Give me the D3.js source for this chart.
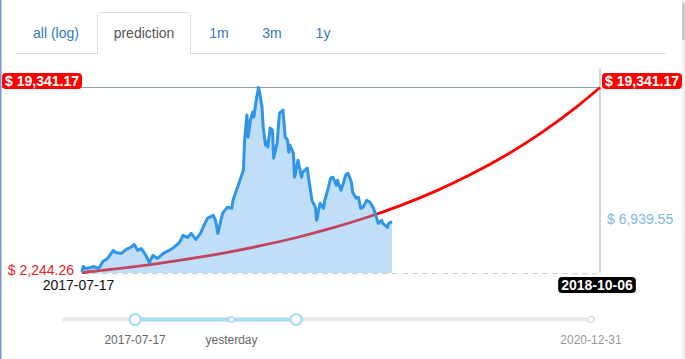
<!DOCTYPE html>
<html><head><meta charset="utf-8">
<script src="https://cdn.jsdelivr.net/npm/d3@7"></script>
<style>
html,body{margin:0;padding:0;background:#fff;overflow:hidden}
svg{display:block;font-family:"Liberation Sans",Arial,Helvetica,sans-serif}
</style></head>
<body>
<svg id="c" width="685" height="359"></svg>
<script>
// ---------- data ----------
const tabs = ["all (log)", "prediction", "1m", "3m", "1y"];
const activeTab = "prediction";

const priceDates = ["2017-07-17","2017-07-18","2017-07-19","2017-07-20","2017-07-25","2017-07-27","2017-07-31","2017-08-02","2017-08-04","2017-08-08","2017-08-13","2017-08-15","2017-08-20","2017-08-24","2017-08-28","2017-08-31","2017-09-03","2017-09-06","2017-09-10","2017-09-13","2017-09-16","2017-09-20","2017-09-25","2017-09-30","2017-10-04","2017-10-09","2017-10-12","2017-10-16","2017-10-19","2017-10-23","2017-10-27","2017-10-30","2017-11-02","2017-11-07","2017-11-09","2017-11-11","2017-11-15","2017-11-17","2017-11-19","2017-11-23","2017-11-24","2017-11-27","2017-11-30","2017-12-03","2017-12-04","2017-12-06","2017-12-07","2017-12-09","2017-12-11","2017-12-12","2017-12-14","2017-12-16","2017-12-17","2017-12-19","2017-12-20","2017-12-22","2017-12-23","2017-12-24","2017-12-26","2017-12-28","2017-12-29","2018-01-01","2018-01-03","2018-01-06","2018-01-08","2018-01-10","2018-01-11","2018-01-12","2018-01-15","2018-01-16","2018-01-19","2018-01-22","2018-01-23","2018-01-27","2018-01-28","2018-01-31","2018-02-03","2018-02-04","2018-02-07","2018-02-10","2018-02-11","2018-02-14","2018-02-16","2018-02-18","2018-02-21","2018-02-22","2018-02-25","2018-02-27","2018-03-01","2018-03-03","2018-03-06","2018-03-07","2018-03-10","2018-03-12","2018-03-14","2018-03-16","2018-03-19","2018-03-22","2018-03-25","2018-03-27","2018-03-29","2018-04-01","2018-04-02","2018-04-06","2018-04-07","2018-04-10"];
const prices = [2244,2800,2707,2615,2707,2800,2615,2893,3263,3541,4283,4097,4005,4375,4561,4839,4283,4468,3819,3171,3819,3541,4005,4283,4561,5024,5673,5488,5858,5302,5858,6600,7248,7526,7063,5858,7712,7989,8268,8175,8916,9843,10770,11696,14476,16793,14754,16330,17071,16608,18183,19341,18832,17534,15681,14012,14290,13828,15588,15403,12808,14198,16979,17257,14754,14476,13364,14013,13271,11048,12623,11048,11511,11882,11048,8916,8268,7063,8638,8175,8916,10028,10955,11048,10306,10770,9843,10492,11233,11418,10584,9658,9102,9194,8175,8268,8916,8731,8175,7526,6785,7063,6785,6414,6785,6939.55];

const predDates = ["2017-07-17","2017-08-17","2017-09-17","2017-10-17","2017-11-17","2017-12-17","2018-01-17","2018-02-17","2018-03-17","2018-04-17","2018-05-17","2018-06-17","2018-07-17","2018-08-17","2018-09-17","2018-10-06"];
const predValues = [2244.26,2607,3028,3500,4065,4698,5457,6339,7256,8428,9742,11316,13080,15193,17646,19341.17];

const startDate = "2017-07-17", targetDate = "2018-10-06";
const minValue = 2244.26, maxValue = 19341.17, lastValue = 6939.55;

const sliderDomain = ["2017-01-01", "2020-12-31"];
const sliderMarks = [["2017-07-17","2017-07-17",true],["2018-04-10","yesterday",false],["2018-10-06","",true]];
const sliderEnd = ["2020-12-31","2020-12-31"];

// ---------- drawing ----------
const parse = d3.utcParse("%Y-%m-%d");
const svg = d3.select("#c");
const fmt = v => "$ " + d3.format(",.2f")(v);

// frame bits
svg.append("rect").attr("x",0).attr("y",0).attr("width",1.5).attr("height",359).attr("fill","#7f93cf");
svg.append("rect").attr("x",682).attr("y",0).attr("width",3).attr("height",359).attr("fill","#f1f1f1");
svg.append("rect").attr("x",682).attr("y",3).attr("width",3).attr("height",37).attr("fill","#c9c9c9");

// tabs
const tabX = [56, 144, 219, 272, 323];
svg.append("line").attr("x1",16).attr("x2",666).attr("y1",53.5).attr("y2",53.5).attr("stroke","#ddd");
svg.append("path").attr("d","M97.5,53.5 V17 Q97.5,12.5 102,12.5 H186 Q190.5,12.5 190.5,17 V53.5")
  .attr("fill","#fff").attr("stroke","#ddd");
svg.append("line").attr("x1",98).attr("x2",190).attr("y1",53.5).attr("y2",53.5).attr("stroke","#fff").attr("stroke-width",1.5);
svg.selectAll("text.tab").data(tabs).join("text").attr("class","tab")
  .attr("x",(d,i)=>tabX[i]).attr("y",38).attr("text-anchor","middle")
  .attr("font-size",14).attr("fill",d=>d===activeTab?"#555":"#337ab7").text(d=>d);

// scales
const x = d3.scaleUtc().domain([parse(startDate), parse(targetDate)]).range([82, 600]);
const y = d3.scaleLinear().domain([minValue, maxValue]).range([272.5, 87.5]);

const priceData = priceDates.map((d,i)=>({date:parse(d), v:prices[i]}));
const predData = predDates.map((d,i)=>({date:parse(d), v:predValues[i]}));

// guides
svg.append("line").attr("x1",x(parse(startDate))).attr("x2",x(parse(targetDate)))
  .attr("y1",273.5).attr("y2",273.5).attr("stroke","#cfcfcf").attr("stroke-dasharray","6,4");
svg.append("line").attr("x1",0).attr("x2",x(parse(targetDate))).attr("y1",y(maxValue)).attr("y2",y(maxValue))
  .attr("stroke","#8c9dba").attr("stroke-width",1.2);
svg.append("line").attr("x1",x(parse(targetDate))).attr("x2",x(parse(targetDate))).attr("y1",68).attr("y2",273)
  .attr("stroke","#c8c8c8").attr("stroke-width",1.5);

// prediction curve
svg.append("path").datum(predData).attr("fill","none").attr("stroke","#f00").attr("stroke-width",2.8)
  .attr("d", d3.line().x(d=>x(d.date)).y(d=>y(d.v)).curve(d3.curveMonotoneX));

// price area + line
svg.append("path").datum(priceData).attr("fill","rgba(100,172,238,0.4)")
  .attr("d", d3.area().x(d=>x(d.date)).y0(273).y1(d=>y(d.v)));
svg.append("path").datum(priceData).attr("fill","none").attr("stroke","#2f95e8").attr("stroke-width",3)
  .attr("stroke-linejoin","round")
  .attr("d", d3.line().x(d=>x(d.date)).y(d=>y(d.v)));

// labels
function badge(cx0, yBottom, text, fill, anchorLeft){
  const g = svg.append("g");
  const t = g.append("text").attr("font-size",14).attr("font-weight","bold").attr("fill","#fff").text(text);
  const w = t.node().getComputedTextLength() + 6;
  const x0 = anchorLeft ? cx0 : cx0 - w/2;
  g.insert("rect","text").attr("x",x0).attr("y",yBottom-16).attr("width",w).attr("height",16).attr("rx",4).attr("fill",fill);
  t.attr("x",x0+w/2).attr("y",yBottom-3).attr("text-anchor","middle");
}
badge(2, 89, fmt(maxValue), "#f00", true);
badge(602, 89, fmt(maxValue), "#f00", true);
badge(597, 293, targetDate, "#000", false);

svg.append("text").attr("x",74).attr("y",y(minValue)+2).attr("text-anchor","end").attr("font-size",14)
  .attr("fill","#e8201e").text(fmt(minValue));
svg.append("text").attr("x",78.5).attr("y",290).attr("text-anchor","middle").attr("font-size",14)
  .attr("fill","#111").text(startDate);
svg.append("text").attr("x",607).attr("y",y(lastValue)+2).attr("font-size",14)
  .attr("fill","#7cb8e6").text(fmt(lastValue));

// slider
const sx = d3.scaleUtc().domain(sliderDomain.map(parse)).range([64, 591]);
const sy = 319.5;
svg.append("line").attr("x1",sx.range()[0]).attr("x2",sx.range()[1]).attr("y1",sy).attr("y2",sy)
  .attr("stroke","#e8e8e8").attr("stroke-width",4).attr("stroke-linecap","round");
svg.append("line").attr("x1",sx(parse(sliderMarks[0][0]))).attr("x2",sx(parse(sliderMarks[2][0])))
  .attr("y1",sy).attr("y2",sy).attr("stroke","#a9dcf4").attr("stroke-width",4);
svg.append("circle").attr("cx",sx(parse(sliderEnd[0]))).attr("cy",sy).attr("r",3)
  .attr("fill","#fff").attr("stroke","#ddd").attr("stroke-width",1.5);
svg.selectAll("circle.mk").data(sliderMarks).join("circle").attr("class","mk")
  .attr("cx",d=>sx(parse(d[0]))).attr("cy",sy).attr("r",d=>d[2]?5.5:2.8)
  .attr("fill","#fff").attr("stroke","#a9dcf4").attr("stroke-width",d=>d[2]?2.2:1.6);
const sl = sliderMarks.filter(d=>d[1]).concat([[sliderEnd[0], sliderEnd[1]]]);
svg.selectAll("text.sl").data(sl).join("text").attr("class","sl")
  .attr("x",d=>sx(parse(d[0]))).attr("y",344).attr("text-anchor","middle").attr("font-size",12)
  .attr("fill",(d,i)=>i===2?"#999":"#666").text(d=>d[1]);
</script>
</body></html>
